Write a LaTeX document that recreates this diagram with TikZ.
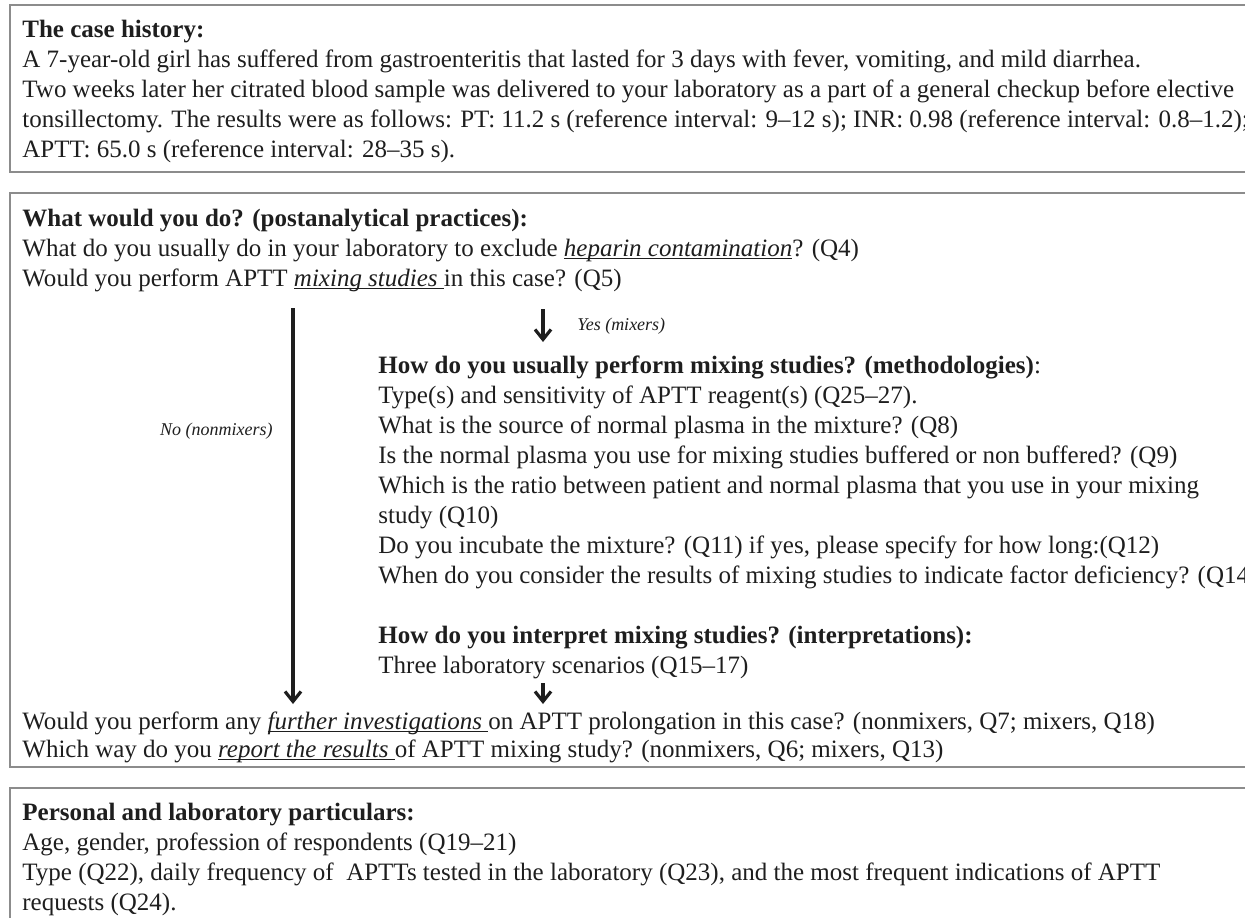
\documentclass[tikz,border=0pt]{standalone}
\usepackage{fontspec}
\setmainfont{Liberation Serif}
\usetikzlibrary{arrows.meta,positioning}
\definecolor{frame}{RGB}{140,140,140}
\definecolor{ink}{RGB}{30,30,30}
\tikzset{
  panel/.style={draw=frame,line width=0.8pt},
  txt/.style={anchor=base west,inner sep=0pt,font=\fontsize{12.5}{15}\selectfont,text=ink},
  hdr/.style={txt,font=\fontsize{12.5}{15}\selectfont\bfseries},
  tag/.style={inner sep=0pt,font=\fontsize{9}{11}\selectfont\itshape,text=ink},
  arr/.style={-{Straight Barb[length=5pt,width=8pt]},line width=1.6pt,ink},
}
\newcommand{\kw}[1]{\underline{\smash{\textit{#1}}}}

\begin{document}
\begin{tikzpicture}[x=0.5pt,y=-0.5pt]
\useasboundingbox (0,0) rectangle (1245,917);
\clip (0,0) rectangle (1245,917);
% three panels, open at the right edge
\draw[panel] (10,5) rectangle (1320,172);
\draw[panel] (10,193) rectangle (1320,767);
\draw[panel] (10,788) rectangle (1320,980);

% case history
\node[hdr] (histhead) at (22,37) {The case history:};
\foreach \ln [count=\k] in {
  {A 7-year-old girl has suffered from gastroenteritis that lasted for 3 days with fever, vomiting, and mild diarrhea.},
  {Two weeks later her citrated blood sample was delivered to your laboratory as a part of a general checkup before elective},
  {tonsillectomy. The results were as follows: PT: 11.2 s (reference interval: 9--12 s); INR: 0.98 (reference interval: 0.8--1.2);},
  {APTT: 65.0 s (reference interval: 28--35 s).}}
  \node[txt] (hist\k) at (22,{37+30*\k}) {\ln};

% postanalytical practices
\node[hdr] (posthead) at (22,226) {What would you do? (postanalytical practices):};
\node[txt] (q4) at (22,256) {What do you usually do in your laboratory to exclude \kw{heparin contamination}? (Q4)};
\node[txt] (q5) at (22,286) {Would you perform APTT \kw{mixing studies }in this case? (Q5)};

% mixers branch
\node[hdr] (methhead) at (378,373) {How do you usually perform mixing studies? (methodologies)\mdseries:};
\foreach \ln [count=\k] in {
  {Type(s) and sensitivity of APTT reagent(s) (Q25--27).},
  {What is the source of normal plasma in the mixture? (Q8)},
  {Is the normal plasma you use for mixing studies buffered or non buffered? (Q9)},
  {Which is the ratio between patient and normal plasma that you use in your mixing},
  {study (Q10)},
  {Do you incubate the mixture? (Q11) if yes, please specify for how long:(Q12)},
  {When do you consider the results of mixing studies to indicate factor deficiency? (Q14)}}
  \node[txt] (meth\k) at (378,{373+30*\k}) {\ln};
\node[hdr] (interhead) at (378,643) {How do you interpret mixing studies? (interpretations):};
\node[txt] (inter1) at (378,673) {Three laboratory scenarios (Q15--17)};

% branch labels and arrows
\node[tag,anchor=base east] (nolbl) at (273,435) {No (nonmixers)};
\node[tag,anchor=base west] (yeslbl) at (577,330) {Yes (mixers)};
\coordinate (notop) at (293,308);
\coordinate (noend) at (293,704);
\coordinate (yestop) at (543,309);
\coordinate (yesend) at (543,342);
\coordinate (mixtop) at (543,683);
\coordinate (mixend) at (543,704);
\draw[arr] (notop) -- (noend);
\draw[arr] (yestop) -- (yesend);
\draw[arr] (mixtop) -- (mixend);

\node[txt] (q7) at (22,729) {Would you perform any \kw{further investigations }on APTT prolongation in this case? (nonmixers, Q7; mixers, Q18)};
\node[txt] (q6) at (22,757) {Which way do you \kw{report the results }of APTT mixing study? (nonmixers, Q6; mixers, Q13)};

% personal particulars
\node[hdr] (perhead) at (22,820) {Personal and laboratory particulars:};
\foreach \ln [count=\k] in {
  {Age, gender, profession of respondents (Q19--21)},
  {Type (Q22), daily frequency of \ APTTs tested in the laboratory (Q23), and the most frequent indications of APTT},
  {requests (Q24).}}
  \node[txt] (per\k) at (22,{820+30*\k}) {\ln};
\end{tikzpicture}
\end{document}
